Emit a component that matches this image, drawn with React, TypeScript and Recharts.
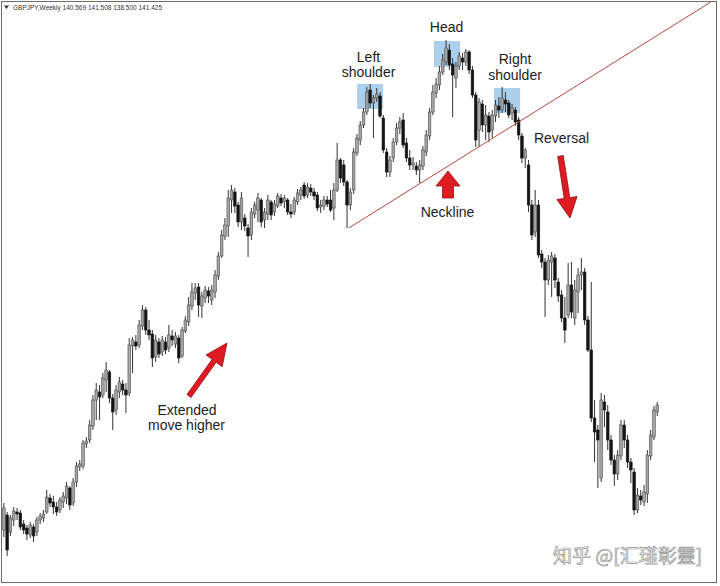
import { ComposedChart, Bar, XAxis, YAxis, ReferenceArea, ReferenceLine } from 'recharts'

// GBPJPY weekly bars, oldest first
const opens = [
  127.5, 131.25, 127, 130, 132, 131.75, 129, 128, 126.25, 128.25,
  127, 130, 130.5, 132, 135.5, 134.5, 133.25, 132.5, 134.5, 135.5,
  138, 134.25, 139.5, 143.25, 143.5, 149, 150, 153.5, 160, 162,
  161.25, 165, 167, 160.5, 157.5, 162, 164, 162.5, 161.75, 173.5,
  174.5, 173.75, 178.5, 182.5, 177.5, 176.5, 170.75, 174.5, 172, 174.5,
  173, 176, 174, 175.5, 171, 177.25, 179.5, 183.5, 186.75, 188.25,
  183.5, 185.5, 187.25, 185, 187, 191, 196, 201, 203.5, 210,
  212, 208.75, 204.5, 205.5, 203, 201.25, 206.5, 207.5, 210, 205,
  206.5, 209.5, 207, 208.5, 210.5, 209.5, 210, 207, 207, 209.5,
  211.25, 213.75, 211.25, 213, 212, 211.25, 208.25, 208.5, 210, 210,
  208, 212.5, 220, 218.75, 214.5, 208.75, 212.5, 221.75, 225, 228.75,
  232, 237.5, 234.25, 235.5, 236, 230.5, 222, 217, 220.5, 224.5,
  228, 230, 224.25, 220.5, 218.75, 218.5, 217.5, 218.5, 222, 226,
  232, 236.75, 238.75, 242, 244.5, 247.5, 244, 240.5, 243.5, 245.5,
  244.5, 247, 242.5, 236.25, 227.5, 234, 228.75, 231, 227.5, 231,
  233.5, 232.5, 235, 234.25, 231.75, 232.5, 230, 226, 220.5, 218.75,
  208.75, 202, 208.75, 196.5, 194.5, 190, 194.5, 195.5, 189.5, 186.25,
  180.5, 181.25, 188.75, 180.5, 187, 191.25, 192, 180, 172.5, 155.5,
  152.5, 140.5, 159.5, 157, 150, 145, 141.5, 146, 153.75, 150,
  144.5, 142, 132.5, 136, 134.5, 136.5, 146, 150.75, 157,
]

const highs = [
  134.25, 132, 131.25, 133.25, 133, 132.5, 130, 128.75, 129.5, 129,
  130.75, 131.75, 132.5, 137.5, 136.5, 136, 134.5, 135.75, 137, 139.5,
  138.5, 140.5, 144.5, 145, 150, 150.75, 155, 161.25, 164.25, 163.75,
  166.75, 169.5, 167.5, 161.5, 163.75, 165.75, 165, 164.25, 175.5, 175.75,
  176.25, 180, 183.75, 183.25, 180, 177.5, 176.25, 175.5, 176, 175.75,
  178.75, 177.5, 177, 176.25, 178.25, 181, 185.75, 189.25, 189.25, 189.25,
  187, 188.5, 188.25, 188.75, 192.5, 197, 202.5, 205.5, 212.5, 213.75,
  213, 209.5, 212, 206.5, 204, 208, 209.5, 211.75, 210.5, 208,
  211.25, 210, 210, 211.75, 211.5, 211.25, 210.5, 209, 210.75, 212.75,
  213.25, 214.5, 214.25, 214, 213, 212, 210, 211, 211, 212.5,
  214.25, 224.25, 220.5, 220, 215, 213, 223, 226.5, 229.75, 233,
  238.25, 239, 236.25, 238, 237, 231.25, 223, 221, 225.5, 229.25,
  230.75, 231.75, 225.5, 222.5, 220.75, 219.5, 220, 223.5, 227.5, 233,
  238.75, 240.5, 243.5, 246.5, 250, 249, 245.5, 244.5, 247, 246.75,
  247.75, 247.5, 243.5, 237, 235.5, 235, 233.75, 232, 232.5, 235,
  235.75, 238.25, 237, 235, 234, 233.25, 230.75, 226.75, 223, 220,
  210, 212.5, 210, 197.5, 195.5, 196.25, 197, 196.5, 190.5, 187.5,
  185.75, 194.25, 194.5, 190, 193, 195.5, 193, 181, 189.5, 160,
  153.75, 161.75, 161.25, 158.75, 151.25, 146.25, 147.5, 155, 155, 151.25,
  145.5, 143, 138, 137.5, 138.75, 147.5, 152.5, 158.5, 159.5,
]

const lows = [
  125.75, 121, 126, 128.5, 130, 127.5, 126.5, 125, 125.5, 124.5,
  126, 129, 129.5, 131.5, 133.25, 131.5, 131, 131.75, 133, 134,
  132.5, 133.5, 138.25, 142.25, 142.75, 148, 149.25, 152.5, 155, 155,
  160.5, 162, 159.25, 152.5, 156.25, 160.5, 161.25, 156.75, 161, 166.75,
  172.5, 173, 177.5, 176.25, 175, 168.25, 169.5, 170.5, 171, 171.5,
  172, 173.5, 173, 169.25, 170.5, 176.75, 178.5, 182.5, 185, 180.75,
  180.5, 184.25, 184.25, 183.75, 185.5, 190, 195.5, 200, 200.75, 206.75,
  206.75, 203.25, 202.5, 202.25, 195.75, 200, 205.5, 204.5, 203.25, 203,
  205, 205, 206, 208, 208.5, 208, 206.25, 205.5, 206.25, 208.75,
  210, 210.25, 210.5, 211, 210, 207.25, 206.75, 207.5, 208.25, 207,
  205, 212, 214.25, 213.5, 203, 207.5, 211.5, 221, 223.75, 228,
  231.25, 233, 225.5, 234.5, 230.5, 221.75, 215.75, 215.75, 219.5, 223.75,
  226.5, 223, 219.5, 217.5, 217.5, 216.25, 214.25, 217.5, 221, 225,
  231.25, 235.5, 237.5, 241.25, 243.75, 242.5, 230.75, 238, 242.5, 242.5,
  243.5, 241.5, 235.5, 223.25, 223.25, 227, 225, 224.5, 225.5, 229.5,
  230.5, 231.75, 232, 230.5, 230, 228.5, 225, 219.25, 218, 207,
  200, 200.75, 195.5, 193, 180.75, 188.75, 185.75, 188, 184.5, 179.5,
  174.25, 180.5, 180.5, 178.75, 181.75, 187.5, 178.75, 172, 154.5, 144.5,
  138, 139.5, 153.25, 147.5, 143.75, 138.5, 140, 145, 148, 143,
  139.25, 131.25, 131.75, 133.75, 133.5, 134.25, 145, 150, 156,
]

const closes = [
  133, 122.5, 130.5, 132.25, 131.5, 128.25, 127.5, 126.5, 128.75, 126,
  130, 131, 131.5, 135.75, 134.25, 133.25, 132, 135, 136, 138.5,
  133.75, 139.5, 143.5, 144, 149.25, 149.75, 153.75, 160, 162.5, 160.75,
  165.5, 167.5, 160.5, 157, 162.5, 164.5, 162.5, 161.25, 173.75, 175,
  173.5, 178.75, 182.5, 177.5, 176.25, 170.5, 175, 171.5, 175, 172.5,
  176.25, 175, 176, 170.5, 177.5, 180, 183.75, 187, 188, 183.75,
  186, 187.5, 186, 187.5, 191.25, 196, 201.25, 203.75, 210.5, 212.5,
  208.5, 204.5, 210.5, 203.5, 201, 207, 208.75, 210.5, 204.5, 207,
  210, 206.25, 209, 211, 209.25, 210.5, 207, 206.5, 210, 211.75,
  212.5, 211, 213.25, 212, 211, 208, 208.75, 210, 209, 207.5,
  212.5, 220, 215.5, 214.5, 208.75, 212, 222, 225.5, 228.75, 232,
  237, 234.25, 235.5, 236.5, 231, 222.5, 217, 220, 224.5, 228,
  229.5, 223.75, 220.5, 218.75, 219.25, 217.5, 218.75, 222.5, 226.25, 232,
  237, 239, 242, 245, 248, 243.75, 241.25, 243.5, 246, 244.5,
  247, 242.5, 236.25, 225, 234.5, 228.75, 231.25, 227, 231.25, 233.75,
  232.5, 235.5, 234, 231.25, 233, 229.5, 226.25, 220.5, 222.5, 208.75,
  201.25, 208.75, 196.25, 194.5, 190, 195, 196, 190, 186, 180.5,
  177.5, 188.75, 182, 187.5, 191.25, 192, 180, 172.5, 155.5, 152,
  150, 160, 157.5, 150, 145, 141.5, 146.25, 153.75, 150, 144.5,
  142.5, 132.5, 136.25, 135, 137, 146.25, 151.25, 157.5, 158.75,
]

// highlighted areas (bar index / price units)
const patternBoxes = [
  { name: 'left', x1: 107, x2: 114.85, y1: 232.75, y2: 239 },
  { name: 'head', x1: 130.3, x2: 138.2, y1: 243.25, y2: 249.75 },
  { name: 'right', x1: 148.5, x2: 156.4, y1: 231.75, y2: 238 },
]

const necklinePoints = [
  { x: 104.5, y: 203 },
  { x: 214.2, y: 259.5 },
]

const data = opens.map((o, i) => ({
  week: i,
  open: o,
  high: highs[i],
  low: lows[i],
  close: closes[i],
  range: [lows[i], highs[i]],
}))

function Candle(props: any) {
  const { x, y, width, height } = props
  const d = props.payload ?? props
  if (x == null || y == null || !isFinite(y)) return null
  const top = Math.min(y, y + height)
  const bottom = Math.max(y, y + height)
  const span = d.high - d.low || 1
  const toY = (v: number) => top + ((d.high - v) / span) * (bottom - top)
  const cx = x + width / 2
  const up = d.close >= d.open
  const bTop = toY(Math.max(d.open, d.close))
  const bBot = toY(Math.min(d.open, d.close))
  return (
    <g>
      <line x1={cx} x2={cx} y1={top} y2={bottom} stroke="#333" strokeWidth={1} />
      <rect
        x={cx - 1.3}
        y={bTop}
        width={2.6}
        height={Math.max(bBot - bTop, 0.8)}
        fill={up ? '#a6a6a6' : '#141414'}
        stroke={up ? '#4a4a4a' : '#141414'}
        strokeWidth={0.6}
      />
    </g>
  )
}

const labelStyle = { fontFamily: '"Liberation Sans", Arial, sans-serif', fontSize: 14, fill: '#1c1c1c' }

function Overlay() {
  return (
    <svg width={720} height={586} style={{ position: 'absolute', left: 0, top: 0, pointerEvents: 'none' }}>
      <rect x={1.5} y={1.5} width={715} height={581} fill="none" stroke="#6b6b6b" strokeWidth={1} />
      <polygon points="4,5.5 9,5.5 6.5,9" fill="#333" />
      <text
        x={13}
        y={10}
        textLength={149}
        lengthAdjust="spacingAndGlyphs"
        style={{ fontFamily: '"Liberation Sans", Tahoma, sans-serif', fontSize: 7, fill: '#333' }}
      >
        GBPJPY,Weekly  140.569 141.508 138.500 141.425
      </text>

      <text x={368.5} y={61.5} textAnchor="middle" style={labelStyle}>Left</text>
      <text x={368.5} y={77} textAnchor="middle" style={labelStyle}>shoulder</text>
      <text x={446.5} y={32} textAnchor="middle" style={labelStyle}>Head</text>
      <text x={515} y={64} textAnchor="middle" style={labelStyle}>Right</text>
      <text x={515} y={80} textAnchor="middle" style={labelStyle}>shoulder</text>
      <text x={447.5} y={217} textAnchor="middle" style={labelStyle}>Neckline</text>
      <text x={561.5} y={143} textAnchor="middle" style={labelStyle}>Reversal</text>
      <text x={187} y={415} textAnchor="middle" style={labelStyle}>Extended</text>
      <text x={186.5} y={430} textAnchor="middle" style={labelStyle}>move higher</text>

      <polygon
        points="448,171 460,186 453.5,186 453.5,198 442.5,198 442.5,186 436,186"
        fill="#e01a22"
        stroke="#8b1414"
        strokeWidth={0.8}
      />
      <polygon
        points="191,397.5 216.1,362.3 222.2,366.7 227,343 206,354.9 212.1,359.3 187,394.5"
        fill="#e01a22"
        stroke="#8b1414"
        strokeWidth={0.8}
      />
      <polygon
        points="563.3,155.6 569.8,197.6 577.1,196.5 570,218 556.9,199.5 564.2,198.4 557.7,156.4"
        fill="#e01a22"
        stroke="#8b1414"
        strokeWidth={0.8}
      />

      <text
        x={553}
        y={563}
        style={{
          fontFamily: '"Noto Sans CJK SC", sans-serif',
          fontSize: 19,
          fill: '#ffffff',
          stroke: '#959595',
          strokeWidth: 0.7,
        }}
      >
        知乎 @[汇瑾彰靈]
      </text>
    </svg>
  )
}

export default function App() {
  return (
    <div style={{ position: 'absolute', left: 0, top: 0, width: 720, height: 586, background: '#fff' }}>
      <ComposedChart width={720} height={586} data={data} margin={{ top: 0, right: 0, bottom: 0, left: 0 }}>
        <XAxis dataKey="week" type="number" domain={[-1.212, 216.97]} allowDataOverflow hide />
        <YAxis type="number" domain={[113.5, 260]} allowDataOverflow hide />
        <Bar dataKey="range" barSize={3} shape={Candle} isAnimationActive={false} />
        <ReferenceLine segment={necklinePoints} stroke="#b8463f" strokeWidth={1} ifOverflow="visible" />
        {patternBoxes.map((b) => (
          <ReferenceArea
            key={b.name}
            x1={b.x1}
            x2={b.x2}
            y1={b.y1}
            y2={b.y2}
            fill="#8fc0e8"
            fillOpacity={0.75}
            stroke="none"
            ifOverflow="visible"
          />
        ))}
      </ComposedChart>
      <Overlay />
    </div>
  )
}
